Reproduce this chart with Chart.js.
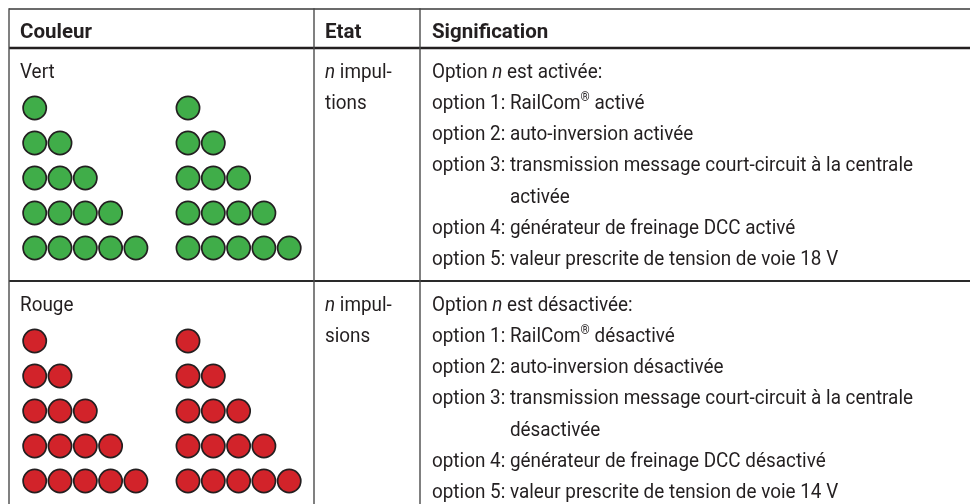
<!DOCTYPE html>
<html lang="fr">
<head>
<meta charset="utf-8">
<title>Signification des couleurs</title>
<script src="https://cdn.jsdelivr.net/npm/chart.js@4.4.0/dist/chart.umd.min.js"></script>
<style>
  html, body { margin: 0; background: #fff; }
  canvas { display: block; }
</style>
</head>
<body>
<canvas id="leds" width="970" height="504"></canvas>
<script>
// table content
var headers = ['Couleur', 'Etat', 'Signification'];
var colours = ['Vert', 'Rouge'];
var pulses = [1, 2, 3, 4, 5];      // LEDs per row in each group
var groupsPerCell = 2;
var etat = [
  ['*n* impul-', 'tions'],
  ['*n* impul-', 'sions']
];
var meaningVert = [
  'Option *n* est activée:',
  'option 1: RailCom^®^ activé',
  'option 2: auto-inversion activée',
  'option 3: transmission message court-circuit à la centrale\nactivée',
  'option 4: générateur de freinage DCC activé',
  'option 5: valeur prescrite de tension de voie 18 V'
];
var meaningRouge = [
  'Option *n* est désactivée:',
  'option 1: RailCom^®^ désactivé',
  'option 2: auto-inversion désactivée',
  'option 3: transmission message court-circuit à la centrale\ndésactivée',
  'option 4: générateur de freinage DCC désactivé',
  'option 5: valeur prescrite de tension de voie 14 V'
];
var meanings = [meaningVert, meaningRouge];

// layout (pixels)
var L = {
  top: 9, left: 9, col2: 314, col3: 420, right: 970, bottom: 504,
  rowTop: [48, 281],
  textX: [20, 325, 432],
  headBase: 37.5,
  base0: 29.5, lineStep: 31.3,
  dotX: [34.7, 188], dotStep: 25.3, dotY0: 60, dotRowStep: 35,
  font: 'Roboto', size: 20.5, targetW: 481
};
var fills = ['#40ad49', '#d2232a'];
var ink = '#231f20';

function ledPoints(s) {
  var pts = [];
  for (var g = 0; g < groupsPerCell; g++) {
    pulses.forEach(function (n, r) {
      for (var i = 0; i < n; i++) {
        pts.push({ x: L.dotX[g] + i * L.dotStep, y: L.rowTop[s] + L.dotY0 + r * L.dotRowStep });
      }
    });
  }
  return pts;
}

var sx = 1;
function fontFor(style, weight, size) {
  return (style || 'normal') + ' ' + (weight || 'normal') + ' ' + size + 'px ' + L.font;
}

// draws text with *italic* and ^superscript^ runs, returns end x
function drawRich(ctx, str, x, y, weight, scaleX) {
  var k = scaleX || sx;
  var parts = str.split(/(\*[^*]+\*|\^[^^]+\^)/);
  parts.forEach(function (p) {
    if (!p) return;
    var style = 'normal', size = L.size, dy = 0;
    if (p[0] === '*') { p = p.slice(1, -1); style = 'italic'; }
    else if (p[0] === '^') { p = p.slice(1, -1); size = L.size * 0.62; dy = -L.size * 0.36; }
    ctx.font = fontFor(style, weight, size);
    ctx.save();
    ctx.translate(x, y + dy);
    ctx.scale(k, 1);
    ctx.fillText(p, 0, 0);
    ctx.restore();
    x += ctx.measureText(p).width * k;
  });
  return x;
}
function richWidth(ctx, str) {
  ctx.font = fontFor('normal', 'normal', L.size);
  return ctx.measureText(str.replace(/[*^]/g, '')).width * sx;
}

var tablePlugin = {
  id: 'table',
  beforeDatasetsDraw: function (chart) {
    var ctx = chart.ctx, X = chart.scales.x, Y = chart.scales.y;
    function line(x1, y1, x2, y2, w, c) {
      ctx.beginPath();
      ctx.lineWidth = w;
      ctx.strokeStyle = c;
      ctx.moveTo(X.getPixelForValue(x1), Y.getPixelForValue(y1));
      ctx.lineTo(X.getPixelForValue(x2), Y.getPixelForValue(y2));
      ctx.stroke();
    }
    ctx.save();
    line(L.left, L.top, L.right, L.top, 1.5, '#3a3a3a');
    line(L.left, L.rowTop[0], L.right, L.rowTop[0], 2.6, ink);
    line(L.left, L.rowTop[1], L.right, L.rowTop[1], 2.2, '#2a2a2a');
    [L.left, L.col2, L.col3].forEach(function (x) {
      line(x, L.top - 0.75, x, L.bottom, 1.4, '#4a4a4a');
    });
    ctx.restore();
  },
  afterDatasetsDraw: function (chart) {
    var ctx = chart.ctx, X = chart.scales.x, Y = chart.scales.y;
    ctx.save();
    ctx.font = fontFor('normal', 'normal', L.size);
    sx = L.targetW / ctx.measureText(meaningVert[3].split('\n')[0]).width;
    ctx.fillStyle = ink;
    ctx.textBaseline = 'alphabetic';
    headers.forEach(function (h, c) {
      drawRich(ctx, h, X.getPixelForValue(L.textX[c]), Y.getPixelForValue(L.headBase), 'bold', 1);
    });
    colours.forEach(function (name, s) {
      var top = L.rowTop[s];
      var yAt = function (k) { return Y.getPixelForValue(top + L.base0 + k * L.lineStep); };
      drawRich(ctx, name, X.getPixelForValue(L.textX[0]), yAt(0));
      etat[s].forEach(function (t, k) {
        drawRich(ctx, t, X.getPixelForValue(L.textX[1]), yAt(k));
      });
      var k = 0;
      meanings[s].forEach(function (m) {
        var pieces = m.split('\n');
        var x0 = X.getPixelForValue(L.textX[2]);
        drawRich(ctx, pieces[0], x0, yAt(k++));
        if (pieces[1]) {
          var prefix = pieces[0].match(/^[^:]*:\s/)[0];
          drawRich(ctx, pieces[1], x0 + richWidth(ctx, prefix), yAt(k++));
        }
      });
    });
    ctx.restore();
  }
};

new Chart(document.getElementById('leds'), {
  type: 'scatter',
  data: {
    datasets: colours.map(function (c, s) {
      return {
        label: c,
        data: ledPoints(s),
        backgroundColor: fills[s],
        borderColor: ink,
        borderWidth: 1.7,
        pointRadius: 11.6,
        pointHoverRadius: 11.6
      };
    })
  },
  options: {
    responsive: false,
    animation: false,
    events: [],
    layout: { padding: 0, autoPadding: false },
    plugins: { legend: { display: false }, tooltip: { enabled: false } },
    scales: {
      x: { type: 'linear', min: 0, max: 970, display: false },
      y: { type: 'linear', min: 0, max: 504, reverse: true, display: false }
    }
  },
  plugins: [tablePlugin]
});
</script>
</body>
</html>
